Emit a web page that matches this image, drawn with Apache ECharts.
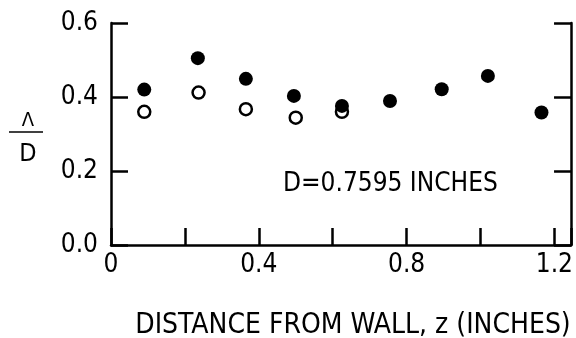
<!DOCTYPE html>
<html>
<head>
<meta charset="utf-8">
<script src="https://cdn.jsdelivr.net/npm/echarts@6/dist/echarts.min.js"></script>
<style>
  html, body { margin: 0; padding: 0; background: #fff; }
  #chart { width: 576px; height: 338px; }
</style>
</head>
<body>
<div id="chart"></div>
<script>
// Wavelength ratio vs. distance from the wall
const filledZ = [0.09, 0.235, 0.365, 0.495, 0.625, 0.755, 0.895, 1.02, 1.165];
const filledRatio = [0.42, 0.505, 0.449, 0.403, 0.376, 0.389, 0.421, 0.457, 0.358];
const openZ = [0.09, 0.237, 0.365, 0.50, 0.625];
const openRatio = [0.36, 0.412, 0.367, 0.344, 0.36];

const xTickLabels = ['0', '0.4', '0.8', '1.2'];
const yTickLabels = ['0.0', '0.2', '0.4', '0.6'];

const FONT = '"DejaVu Sans Condensed", "Liberation Sans", sans-serif';
const INK = '#000';

function pairs(xs, ys) { return xs.map((x, i) => [x, ys[i]]); }
function labelFor(list, v) {
  const hit = list.find(s => Math.abs(parseFloat(s) - v) < 1e-6);
  return hit === undefined ? '' : hit;
}

const chart = echarts.init(document.getElementById('chart'), null, { renderer: 'canvas' });

const axisLine = { show: true, onZero: false, lineStyle: { color: INK, width: 2.5 } };
const tick = { show: true, inside: true, length: 17, lineStyle: { color: INK, width: 2.5 } };

chart.setOption({
  animation: false,
  backgroundColor: '#fff',
  grid: { left: 111, right: 3, top: 23, bottom: 93, containLabel: false },
  xAxis: {
    type: 'value', min: 0, max: 1.245, interval: 0.2,
    axisLine, axisTick: tick, splitLine: { show: false },
    axisLabel: {
      margin: 7, color: INK, fontFamily: FONT, fontSize: 26,
      formatter: v => labelFor(xTickLabels, v)
    }
  },
  yAxis: [
    {
      type: 'value', min: 0, max: 0.6, interval: 0.2, position: 'left',
      axisLine, axisTick: tick, splitLine: { show: false },
      axisLabel: {
        margin: 13, color: INK, fontFamily: FONT, fontSize: 26,
        formatter: v => labelFor(yTickLabels, v)
      }
    },
    {
      type: 'value', min: 0, max: 0.6, interval: 0.2, position: 'right',
      axisLine, axisTick: tick, splitLine: { show: false },
      axisLabel: { show: false }
    }
  ],
  series: [
    {
      type: 'scatter', data: pairs(openZ, openRatio), symbol: 'circle', symbolSize: 12,
      itemStyle: { color: '#fff', borderColor: INK, borderWidth: 2.5, opacity: 1 },
      z: 2
    },
    {
      type: 'scatter', data: pairs(filledZ, filledRatio), symbol: 'circle', symbolSize: 14,
      itemStyle: { color: INK, opacity: 1 },
      z: 3
    }
  ],
  graphic: [
    { type: 'text', x: 283, y: 184,
      style: { text: 'D=0.7595 INCHES', font: '26px ' + FONT, fill: INK, verticalAlign: 'middle' } },
    { type: 'text', x: 353, y: 326,
      style: { text: 'DISTANCE FROM WALL, z (INCHES)', font: '28px ' + FONT, fill: INK,
               align: 'center', verticalAlign: 'middle' } },
    { type: 'text', x: 28, y: 121,
      style: { text: 'Λ', font: '20px ' + FONT, fill: INK, align: 'center', verticalAlign: 'middle' } },
    { type: 'line', shape: { x1: 9, y1: 132, x2: 43, y2: 132 }, style: { stroke: INK, lineWidth: 1.5 } },
    { type: 'text', x: 28, y: 154,
      style: { text: 'D', font: '25px ' + FONT, fill: INK, align: 'center', verticalAlign: 'middle' } }
  ]
});
</script>
</body>
</html>
